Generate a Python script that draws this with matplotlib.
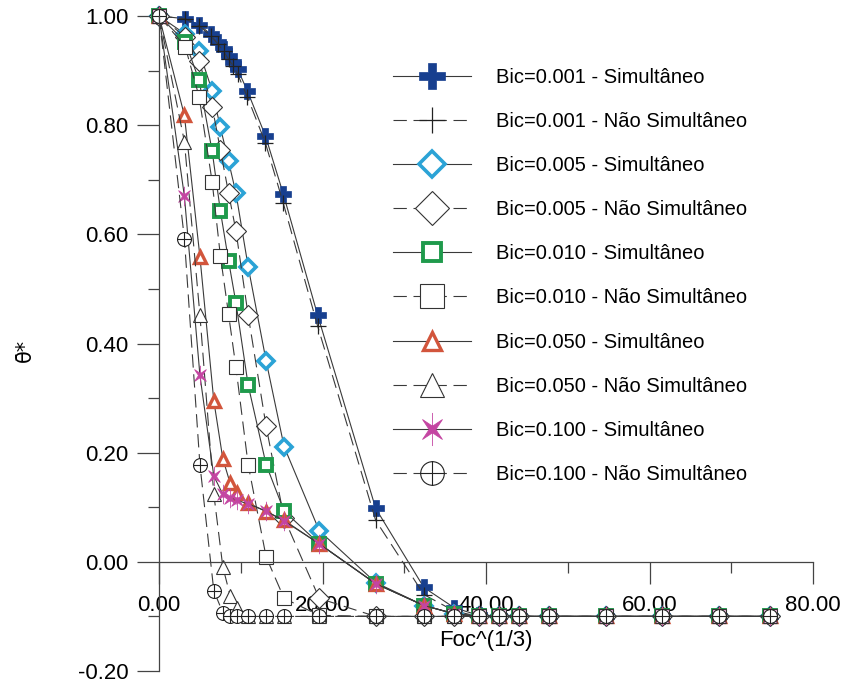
import matplotlib.pyplot as plt
from matplotlib.path import Path
from matplotlib.ticker import MultipleLocator, FormatStrFormatter

plt.rcParams['font.family'] = ['Liberation Sans', 'DejaVu Sans']

# Foc^(1/3) values where the curves settle at -0.10
tail_x = [26.5, 32.4, 36.1, 39.1, 41.6, 44.0, 47.7, 54.7, 61.5, 68.5, 74.7]

x_bic001 = [0, 3.2, 4.9, 6.3, 7.2, 7.9, 8.5, 9.1, 9.6, 10.8, 13.0, 15.2, 19.4] + tail_x
x_bic010 = [0, 3.2, 4.9, 6.5, 7.5, 8.5, 9.4, 10.9, 13.1, 15.3, 19.6] + tail_x
x_bic100 = [0, 3.1, 5.0, 6.7, 7.8, 8.7, 9.5, 10.9, 13.1, 15.3, 19.6] + tail_x

y001_sim = [1.000, 0.995, 0.984, 0.967, 0.953, 0.940, 0.927, 0.916, 0.903, 0.863, 0.781,
            0.674, 0.452, 0.098, -0.047, -0.084, -0.098, -0.10, -0.10, -0.10, -0.10,
            -0.10, -0.10, -0.10]
y001_nao = [1.000, 0.995, 0.982, 0.964, 0.949, 0.935, 0.921, 0.908, 0.894, 0.852, 0.768,
            0.657, 0.432, 0.076, -0.060, -0.090, -0.10, -0.10, -0.10, -0.10, -0.10,
            -0.10, -0.10, -0.10]
y005_sim = [1.000, 0.967, 0.936, 0.863, 0.796, 0.734, 0.676, 0.541, 0.368, 0.211, 0.057,
            -0.038, -0.080, -0.095, -0.10, -0.10, -0.10, -0.10, -0.10, -0.10, -0.10, -0.10]
y005_nao = [1.000, 0.962, 0.918, 0.834, 0.755, 0.676, 0.607, 0.452, 0.248, 0.080, -0.067,
            -0.10, -0.10, -0.10, -0.10, -0.10, -0.10, -0.10, -0.10, -0.10, -0.10, -0.10]
y010_sim = [1.000, 0.953, 0.882, 0.752, 0.643, 0.552, 0.475, 0.324, 0.178, 0.093, 0.033,
            -0.040, -0.080, -0.095, -0.10, -0.10, -0.10, -0.10, -0.10, -0.10, -0.10, -0.10]
y010_nao = [1.000, 0.944, 0.852, 0.696, 0.561, 0.454, 0.357, 0.178, 0.009, -0.067, -0.098,
            -0.10, -0.10, -0.10, -0.10, -0.10, -0.10, -0.10, -0.10, -0.10, -0.10, -0.10]
y050_sim = [1.000, 0.818, 0.559, 0.295, 0.189, 0.144, 0.126, 0.108, 0.092, 0.076, 0.033,
            -0.040, -0.080, -0.095, -0.10, -0.10, -0.10, -0.10, -0.10, -0.10, -0.10, -0.10]
y050_nao = [1.000, 0.770, 0.452, 0.124, -0.009, -0.062, -0.084, -0.10, -0.10, -0.10, -0.10,
            -0.10, -0.10, -0.10, -0.10, -0.10, -0.10, -0.10, -0.10, -0.10, -0.10, -0.10]
y100_sim = [1.000, 0.670, 0.342, 0.157, 0.124, 0.117, 0.113, 0.106, 0.093, 0.075, 0.033,
            -0.040, -0.080, -0.095, -0.10, -0.10, -0.10, -0.10, -0.10, -0.10, -0.10, -0.10]
y100_nao = [1.000, 0.592, 0.178, -0.053, -0.093, -0.10, -0.10, -0.10, -0.10, -0.10, -0.10,
            -0.10, -0.10, -0.10, -0.10, -0.10, -0.10, -0.10, -0.10, -0.10, -0.10, -0.10]

labels = ['Bic=0.001 - Simultâneo', 'Bic=0.001 - Não Simultâneo',
          'Bic=0.005 - Simultâneo', 'Bic=0.005 - Não Simultâneo',
          'Bic=0.010 - Simultâneo', 'Bic=0.010 - Não Simultâneo',
          'Bic=0.050 - Simultâneo', 'Bic=0.050 - Não Simultâneo',
          'Bic=0.100 - Simultâneo', 'Bic=0.100 - Não Simultâneo']

# custom markers: circle with a cross, four-point star with a thin cross
cross = Path([(-1, 0), (1, 0), (0, -1), (0, 1)],
             [Path.MOVETO, Path.LINETO, Path.MOVETO, Path.LINETO])
circle_cross = Path.make_compound_path(Path.unit_circle(), cross)
a, r = 0.6, 0.2
star_pts = [(a, a), (0, r), (-a, a), (-r, 0), (-a, -a), (0, -r), (a, -a), (r, 0), (a, a)]
star = Path(star_pts, [Path.MOVETO] + [Path.LINETO] * 7 + [Path.CLOSEPOLY])
vline = Path([(0, -1), (0, 1)], [Path.MOVETO, Path.LINETO])
star_cross = Path.make_compound_path(star, vline)

navy = '#173f8f'
cyan = '#2ba3d6'
green = '#1f9a4c'
red = '#d2553c'
magenta = '#c445a2'
line_c = '#3a3a3a'

series = [
    (x_bic001, y001_sim, dict(ls='-', marker='P', ms=11, mfc=navy, mec=navy, mew=0.5)),
    (x_bic001, y001_nao, dict(ls=(0, (12, 6)), marker='+', ms=11, mec='#222222', mew=0.9)),
    (x_bic010, y005_sim, dict(ls='-', marker='D', ms=8, mfc='white', mec=cyan, mew=2.6)),
    (x_bic010, y005_nao, dict(ls=(0, (12, 6)), marker='D', ms=10, mfc='white', mec='#333333', mew=0.8)),
    (x_bic010, y010_sim, dict(ls='-', marker='s', ms=8, mfc='white', mec=green, mew=2.8)),
    (x_bic010, y010_nao, dict(ls=(0, (12, 6)), marker='s', ms=10, mfc='white', mec='#333333', mew=0.8)),
    (x_bic100, y050_sim, dict(ls='-', marker='^', ms=8, mfc='white', mec=red, mew=2.4)),
    (x_bic100, y050_nao, dict(ls=(0, (12, 6)), marker='^', ms=10, mfc='white', mec='#333333', mew=0.8)),
    (x_bic100, y100_sim, dict(ls='-', marker=star_cross, ms=14, mfc=magenta, mec=magenta, mew=0.6)),
    (x_bic100, y100_nao, dict(ls=(0, (12, 6)), marker=circle_cross, ms=10, mfc='white', mec='#222222', mew=0.8)),
]

fig = plt.figure(figsize=(8.46, 6.84), dpi=100)
ax = fig.add_axes([0.188, 0.019, 0.773, 0.9576])

for (xs, ys, st), lab in zip(series, labels):
    ax.plot(xs, ys, color=line_c, lw=0.8, label=lab, clip_on=False, **st)

ax.set_xlim(0, 80)
ax.set_ylim(-0.2, 1.0)

ax.spines['top'].set_visible(False)
ax.spines['right'].set_visible(False)
ax.spines['bottom'].set_position(('data', 0))
for s in ('left', 'bottom'):
    ax.spines[s].set_color('#444444')
    ax.spines[s].set_linewidth(0.9)

ax.xaxis.set_major_locator(MultipleLocator(20))
ax.xaxis.set_minor_locator(MultipleLocator(10))
ax.yaxis.set_major_locator(MultipleLocator(0.2))
ax.yaxis.set_minor_locator(MultipleLocator(0.1))
ax.xaxis.set_major_formatter(FormatStrFormatter('%.2f'))
ax.yaxis.set_major_formatter(FormatStrFormatter('%.2f'))

ax.tick_params(which='both', direction='out', color='#444444', width=0.9, labelsize=16)
ax.tick_params(which='major', length=16)
ax.tick_params(which='minor', length=8)
ax.tick_params(axis='x', which='major', pad=8)
ax.tick_params(axis='y', which='major', pad=6)

ax.set_xlabel('Foc^(1/3)', fontsize=16)
ax.xaxis.set_label_coords(0.5, 0.062)
ax.set_ylabel('θ\u0304*', fontsize=15, family=['DejaVu Sans'])
ax.yaxis.set_label_coords(-0.19, 0.49)

ax.legend(loc='upper left', bbox_to_anchor=(0.455, 0.913), bbox_transform=fig.transFigure,
          frameon=False, fontsize=14.5, handlelength=3.85, handletextpad=1.25,
          labelspacing=1.25, markerscale=1.7, borderaxespad=0, numpoints=1)

fig.savefig('out.png', dpi=100, facecolor='white')
